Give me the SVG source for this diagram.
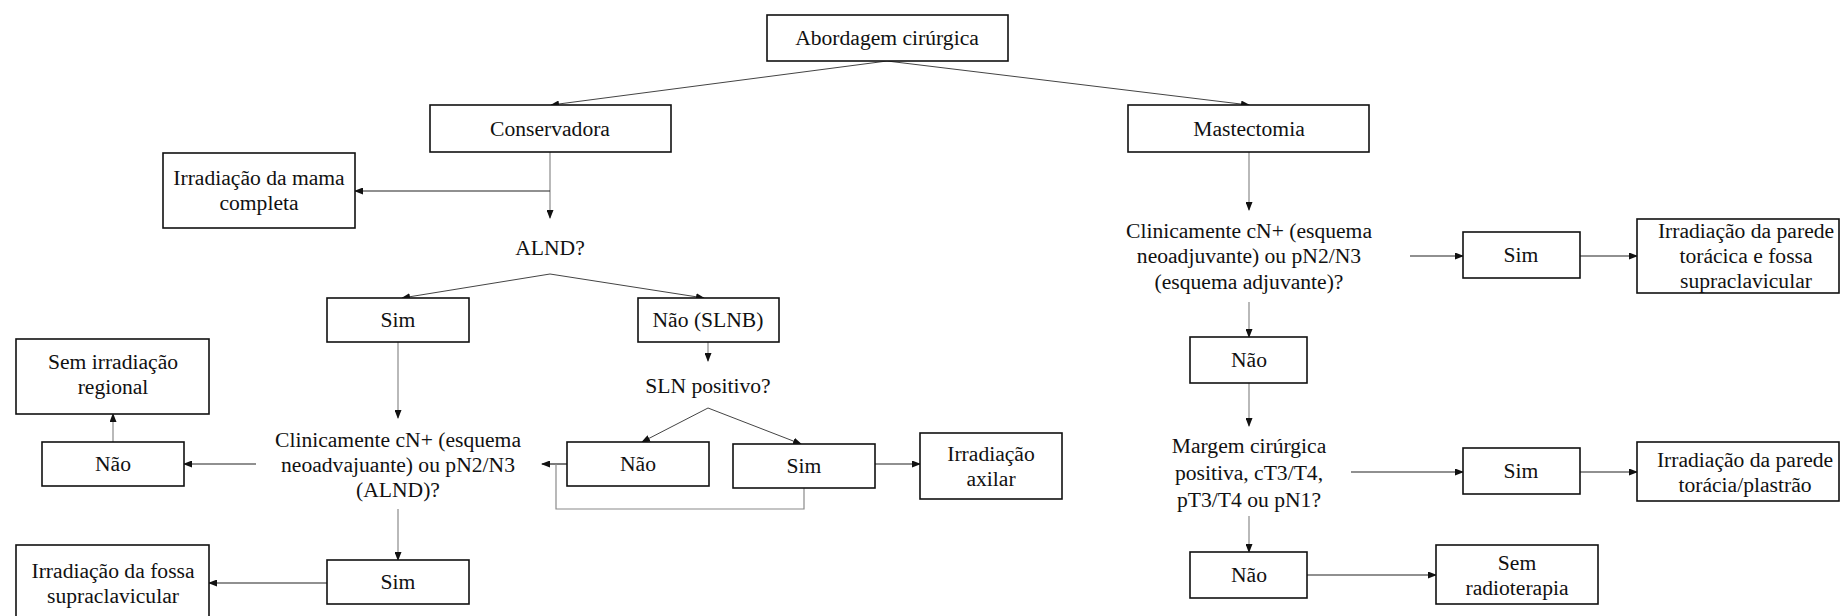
<svg xmlns="http://www.w3.org/2000/svg" width="1841" height="616" viewBox="0 0 1841 616">
<defs>
<marker id="ah" markerWidth="9" markerHeight="7" refX="8" refY="3.5" orient="auto" markerUnits="userSpaceOnUse">
<path d="M0,0 L9,3.5 L0,7 z" fill="#111"/>
</marker>
<style>
rect.b{fill:#fff;stroke:#111;stroke-width:1.6}
text{font-family:'Liberation Serif','DejaVu Serif',serif;font-size:21.6px;fill:#111;text-anchor:middle}
.c{fill:none;stroke:#222;stroke-width:1.2}
.v{fill:none;stroke:#8a8a8a;stroke-width:1.2}
.d{fill:none;stroke:#444;stroke-width:1}
</style>
</defs>
<rect width="1841" height="616" fill="#fff"/>
<g id="connectors">
<line class="d" x1="887" y1="61" x2="551" y2="105" marker-end="url(#ah)"/>
<line class="d" x1="887" y1="61" x2="1249" y2="105" marker-end="url(#ah)"/>
<line class="v" x1="550" y1="152" x2="550" y2="218" marker-end="url(#ah)"/>
<line class="c" x1="550" y1="191" x2="355" y2="191" marker-end="url(#ah)"/>
<line class="d" x1="550" y1="274" x2="402" y2="298" marker-end="url(#ah)"/>
<line class="d" x1="550" y1="274" x2="704" y2="298" marker-end="url(#ah)"/>
<line class="v" x1="708" y1="342" x2="708" y2="361" marker-end="url(#ah)"/>
<line class="d" x1="708" y1="408" x2="642" y2="442" marker-end="url(#ah)"/>
<line class="d" x1="708" y1="408" x2="801" y2="444" marker-end="url(#ah)"/>
<line class="c" x1="875" y1="464" x2="920" y2="464" marker-end="url(#ah)"/>
<line class="c" x1="567" y1="464" x2="542" y2="464" marker-end="url(#ah)"/>
<path class="v" d="M804,488 V509 H556 V464"/>
<line class="v" x1="398" y1="342" x2="398" y2="418" marker-end="url(#ah)"/>
<line class="c" x1="256" y1="464" x2="184" y2="464" marker-end="url(#ah)"/>
<line class="v" x1="113" y1="442" x2="113" y2="414" marker-end="url(#ah)"/>
<line class="v" x1="398" y1="509" x2="398" y2="560" marker-end="url(#ah)"/>
<line class="c" x1="327" y1="583" x2="209" y2="583" marker-end="url(#ah)"/>
<line class="v" x1="1249" y1="152" x2="1249" y2="210" marker-end="url(#ah)"/>
<line class="c" x1="1410" y1="256" x2="1463" y2="256" marker-end="url(#ah)"/>
<line class="c" x1="1580" y1="256" x2="1637" y2="256" marker-end="url(#ah)"/>
<line class="v" x1="1249" y1="302" x2="1249" y2="337" marker-end="url(#ah)"/>
<line class="v" x1="1249" y1="383" x2="1249" y2="426" marker-end="url(#ah)"/>
<line class="c" x1="1351" y1="472" x2="1463" y2="472" marker-end="url(#ah)"/>
<line class="c" x1="1580" y1="472" x2="1637" y2="472" marker-end="url(#ah)"/>
<line class="v" x1="1249" y1="516" x2="1249" y2="552" marker-end="url(#ah)"/>
<line class="c" x1="1307" y1="575" x2="1436" y2="575" marker-end="url(#ah)"/>
</g>
<g font-family="Liberation Serif, serif">
<g id="n-abordagem"><rect class="b" x="767" y="15" width="241" height="46"/><text x="887" y="45">Abordagem cirúrgica</text></g>
<g id="n-conservadora"><rect class="b" x="430" y="105" width="241" height="47"/><text x="550" y="136">Conservadora</text></g>
<g id="n-mastectomia"><rect class="b" x="1128" y="105" width="241" height="47"/><text x="1249" y="136">Mastectomia</text></g>
<g id="n-mama"><rect class="b" x="163" y="153" width="192" height="75"/><text x="259" y="185">Irradiação da mama</text><text x="259" y="210">completa</text></g>
<g id="n-alnd"><text x="550" y="255">ALND?</text></g>
<g id="n-sim1"><rect class="b" x="327" y="298" width="142" height="44"/><text x="398" y="327">Sim</text></g>
<g id="n-naoslnb"><rect class="b" x="638" y="298" width="141" height="44"/><text x="708" y="327">Não (SLNB)</text></g>
<g id="n-slnpos"><text x="708" y="393">SLN positivo?</text></g>
<g id="n-nao2"><rect class="b" x="567" y="442" width="142" height="44"/><text x="638" y="471">Não</text></g>
<g id="n-sim2"><rect class="b" x="733" y="444" width="142" height="44"/><text x="804" y="473">Sim</text></g>
<g id="n-axilar"><rect class="b" x="920" y="433" width="142" height="66"/><text x="991" y="461">Irradiação</text><text x="991" y="486">axilar</text></g>
<g id="n-clin1"><text x="398" y="447">Clinicamente cN+ (esquema</text><text x="398" y="472">neoadvajuante) ou pN2/N3</text><text x="398" y="497">(ALND)?</text></g>
<g id="n-nao1"><rect class="b" x="42" y="442" width="142" height="44"/><text x="113" y="471">Não</text></g>
<g id="n-semirr"><rect class="b" x="16" y="339" width="193" height="75"/><text x="113" y="369">Sem irradiação</text><text x="113" y="394">regional</text></g>
<g id="n-sim3"><rect class="b" x="327" y="560" width="142" height="44"/><text x="398" y="589">Sim</text></g>
<g id="n-fossa"><rect class="b" x="16" y="545" width="193" height="80"/><text x="113" y="578">Irradiação da fossa</text><text x="113" y="603">supraclavicular</text></g>
<g id="n-clin2"><text x="1249" y="238">Clinicamente cN+ (esquema</text><text x="1249" y="263">neoadjuvante) ou pN2/N3</text><text x="1249" y="289">(esquema adjuvante)?</text></g>
<g id="n-sim4"><rect class="b" x="1463" y="232" width="117" height="46"/><text x="1521" y="262">Sim</text></g>
<g id="n-parede1"><rect class="b" x="1637" y="219" width="202" height="74"/><text x="1746" y="238">Irradiação da parede</text><text x="1746" y="263">torácica e fossa</text><text x="1746" y="288">supraclavicular</text></g>
<g id="n-nao3"><rect class="b" x="1190" y="337" width="117" height="46"/><text x="1249" y="367">Não</text></g>
<g id="n-margem"><text x="1249" y="453">Margem cirúrgica</text><text x="1249" y="480">positiva, cT3/T4,</text><text x="1249" y="507">pT3/T4 ou pN1?</text></g>
<g id="n-sim5"><rect class="b" x="1463" y="448" width="117" height="46"/><text x="1521" y="478">Sim</text></g>
<g id="n-parede2"><rect class="b" x="1637" y="442" width="202" height="59"/><text x="1745" y="467">Irradiação da parede</text><text x="1745" y="492">torácia/plastrão</text></g>
<g id="n-nao4"><rect class="b" x="1190" y="552" width="117" height="46"/><text x="1249" y="582">Não</text></g>
<g id="n-semradio"><rect class="b" x="1436" y="545" width="162" height="59"/><text x="1517" y="570">Sem</text><text x="1517" y="595">radioterapia</text></g>
</g>
</svg>
